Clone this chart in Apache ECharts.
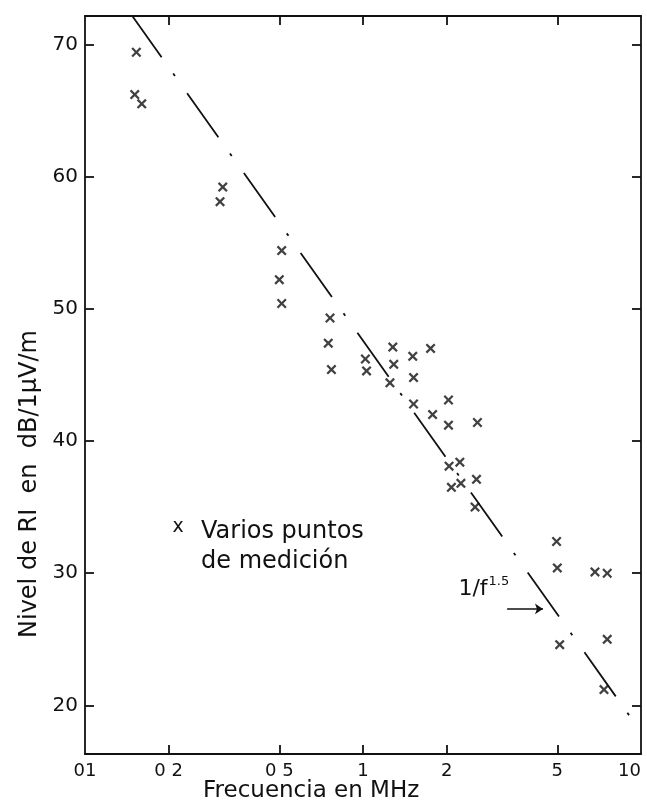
<!DOCTYPE html>
<html>
<head>
<meta charset="utf-8">
<script src="https://cdn.jsdelivr.net/npm/echarts@6/dist/echarts.min.js"></script>
<style>
  html, body { margin: 0; padding: 0; background: #fff; overflow: hidden; }
  #chart { width: 647px; height: 802px; }
</style>
</head>
<body>
<div id="chart"></div>
<script>
// puntos de medición (MHz, dB/1uV/m)
const freqs = [0.153, 0.151, 0.160, 0.313, 0.306, 0.510, 0.500, 0.510,
  0.761, 0.750, 0.770, 1.02, 1.03, 1.28, 1.29, 1.25, 1.51, 1.52, 1.52,
  1.75, 1.78, 2.03, 2.03, 2.58, 2.04, 2.23, 2.08, 2.25, 2.56, 2.53,
  4.97, 5.0, 6.83, 7.56, 5.1, 7.56, 7.36];
const levels = [69.4, 66.2, 65.5, 59.2, 58.1, 54.4, 52.2, 50.4,
  49.3, 47.4, 45.4, 46.2, 45.3, 47.1, 45.8, 44.4, 46.4, 44.8, 42.8,
  47.0, 42.0, 43.1, 41.2, 41.4, 38.1, 38.4, 36.5, 36.8, 37.1, 35.0,
  32.4, 30.4, 30.1, 30.0, 24.6, 25.0, 21.2];

// recta 1/f^1.5
const trendFreqs = [0.1484, 10];
const trendLevels = [72.1, 18.0];

// flecha de la anotación
const arrowFreqs = [3.30, 4.44];
const arrowLevel = 27.3;
const noteFreq = 2.72;
const noteLevel = 28.9;

const xTicks = [0.1, 0.2, 0.5, 1, 2, 5, 10];
const xTickLabels = ['01', '0 2', '0 5', '1', '2', '5', '10'];
const xInnerTicks = [0.2, 0.5, 1, 2, 5];
const yTicks = [20, 30, 40, 50, 60, 70];

const ink = '#111';
const font = 'DejaVu Sans';

const crossPath = 'path://M0,1.6L1.6,0L5,3.4L8.4,0L10,1.6L6.6,5L10,8.4L8.4,10L5,6.6L1.6,10L0,8.4L3.4,5Z';

const myChart = echarts.init(document.getElementById('chart'));

const axisLine = { show: true, lineStyle: { color: ink, width: 1.8 } };
const innerTick = (vals) => ({ show: true, inside: true, length: 9, customValues: vals, lineStyle: { color: ink, width: 1.8 } });

const options = {
  animation: false,
  backgroundColor: '#fff',
  grid: { left: 85, right: 6, top: 16, bottom: 48, containLabel: false, outerBoundsMode: 'none' },
  xAxis: [
    {
      type: 'log', logBase: 10, min: 0.1, max: 10, position: 'bottom',
      axisLine: axisLine,
      axisTick: innerTick(xInnerTicks),
      axisLabel: {
        customValues: xTicks,
        margin: 8,
        alignMaxLabel: 'right',
        fontSize: 18, fontFamily: font, color: ink,
        formatter: (v) => xTickLabels[xTicks.findIndex(t => Math.abs(t - v) < 1e-6)]
      },
      splitLine: { show: false }, minorTick: { show: false }
    },
    {
      type: 'log', logBase: 10, min: 0.1, max: 10, position: 'top',
      axisLine: axisLine,
      axisTick: innerTick(xInnerTicks),
      axisLabel: { show: false },
      splitLine: { show: false }
    }
  ],
  yAxis: [
    {
      type: 'value', min: 16.33, max: 72.14, position: 'left',
      axisLine: axisLine,
      axisTick: innerTick(yTicks),
      axisLabel: { customValues: yTicks, margin: 7, fontSize: 20, fontFamily: font, color: ink },
      splitLine: { show: false }
    },
    {
      type: 'value', min: 16.33, max: 72.14, position: 'right',
      axisLine: axisLine,
      axisTick: innerTick(yTicks),
      axisLabel: { show: false },
      splitLine: { show: false }
    }
  ],
  series: [
    {
      type: 'line',
      data: trendFreqs.map((f, i) => [f, trendLevels[i]]),
      symbol: 'none',
      lineStyle: { color: ink, width: 1.8, type: [54, 20, 3, 21], dashOffset: 4 },
      markLine: {
        silent: true,
        symbol: ['none', 'arrow'],
        symbolSize: 8,
        label: { show: false },
        lineStyle: { color: ink, width: 1.6, type: 'solid' },
        data: [[{ coord: [arrowFreqs[0], arrowLevel] }, { coord: [arrowFreqs[1], arrowLevel] }]]
      },
      markPoint: {
        silent: true,
        symbol: 'circle',
        symbolSize: 0,
        data: [{ coord: [noteFreq, noteLevel] }],
        label: {
          show: true,
          position: 'inside',
          formatter: '{a|1/f}{b|1.5}',
          rich: {
            a: { fontSize: 22, fontFamily: font, color: ink, verticalAlign: 'bottom' },
            b: { fontSize: 13, fontFamily: font, color: ink, verticalAlign: 'bottom', padding: [0, 0, 12, 1] }
          }
        }
      }
    },
    {
      type: 'scatter',
      data: freqs.map((f, i) => [f, levels[i]]),
      symbol: crossPath,
      symbolSize: 10,
      itemStyle: { color: ink }
    }
  ],
  graphic: [
    {
      type: 'text', x: 30, y: 484, rotation: Math.PI / 2,
      style: { text: 'Nivel de RI  en  dB/1μV/m', font: '24px "DejaVu Sans"', fill: ink,
        align: 'center', verticalAlign: 'middle', textAlign: 'center', textVerticalAlign: 'middle' }
    },
    {
      type: 'text', x: 203, y: 791,
      style: { text: 'Frecuencia en MHz', font: '23px "DejaVu Sans"', fill: ink,
        align: 'left', verticalAlign: 'middle', textAlign: 'left', textVerticalAlign: 'middle' }
    },
    {
      type: 'text', x: 178, y: 527,
      style: { text: 'x', font: '19px "DejaVu Sans"', fill: ink,
        align: 'center', verticalAlign: 'middle', textAlign: 'center', textVerticalAlign: 'middle' }
    },
    {
      type: 'text', x: 201, y: 547,
      style: { text: 'Varios puntos\nde medición', font: '24px "DejaVu Sans"', fill: ink, lineHeight: 30,
        align: 'left', verticalAlign: 'middle', textAlign: 'left', textVerticalAlign: 'middle' }
    }
  ]
};

myChart.setOption(options);
</script>
</body>
</html>
